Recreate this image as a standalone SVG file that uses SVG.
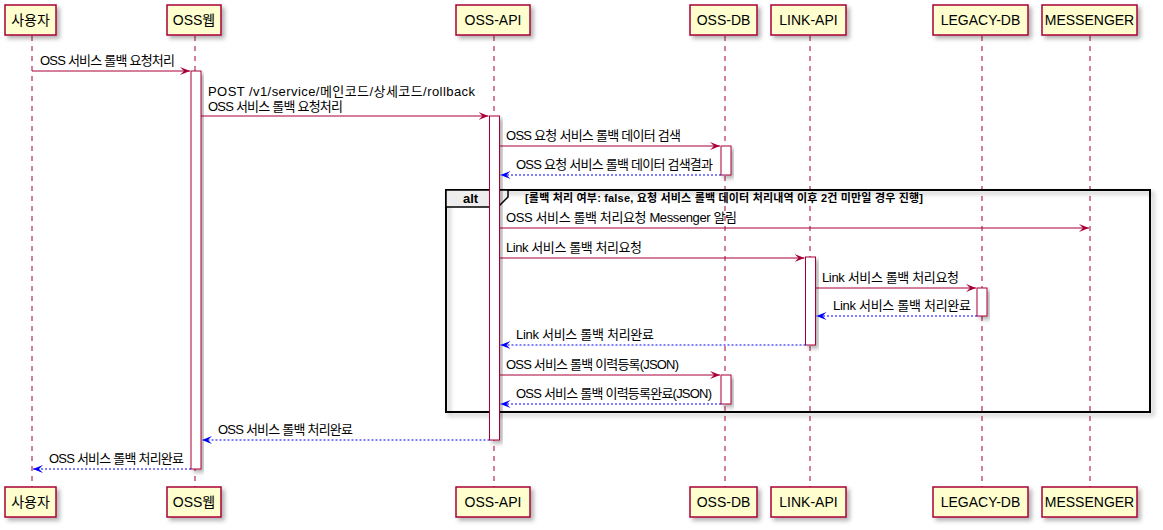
<svg xmlns="http://www.w3.org/2000/svg" width="1163" height="530" viewBox="0 0 1163 530">
<defs>
<filter id="sh" x="-20%" y="-20%" width="150%" height="150%">
<feDropShadow dx="3" dy="3" stdDeviation="2" flood-color="#000" flood-opacity="0.3"/>
</filter>
<marker id="ar" markerWidth="10" markerHeight="8" refX="10" refY="4" orient="auto" markerUnits="userSpaceOnUse">
<path d="M0,0 L10,4 L0,8 L4,4 Z" fill="#A80036"/>
</marker>
<marker id="ab" markerWidth="10" markerHeight="8" refX="10" refY="4" orient="auto" markerUnits="userSpaceOnUse">
<path d="M0,0 L10,4 L0,8 L4,4 Z" fill="#0000FF"/>
</marker>
<style>
.pbox{fill:#FEFECE;stroke:#A80036;stroke-width:1.5;filter:url(#sh)}
.ptxt{font-family:"Liberation Sans","Noto Sans CJK KR",sans-serif;font-size:14px;fill:#000;text-anchor:middle}
.life{stroke:#A80036;stroke-width:1;stroke-dasharray:5,5}
.act{fill:#FFFFFF;stroke:#A80036;stroke-width:1;filter:url(#sh)}
.msg{stroke:#A80036;stroke-width:1;fill:none;marker-end:url(#ar)}
.ret{stroke:#0000FF;stroke-width:1;stroke-dasharray:2,2;fill:none;marker-end:url(#ab)}
.mt{font-family:"Liberation Sans","Noto Sans CJK KR",sans-serif;font-size:13px;fill:#000}
.frame{fill:none;stroke:#000;stroke-width:2;filter:url(#sh)}
.tab{fill:#EEEEEE;stroke:#000;stroke-width:1.5}
.bt{font-family:"Liberation Sans","Noto Sans CJK KR",sans-serif;font-weight:bold;fill:#000}
</style>
</defs>
<rect width="1163" height="530" fill="#FFFFFF"/>

<g id="lifelines">
<line class="life" x1="32" y1="36" x2="32" y2="487"/>
<line class="life" x1="195" y1="36" x2="195" y2="487"/>
<line class="life" x1="494" y1="36" x2="494" y2="487"/>
<line class="life" x1="725" y1="36" x2="725" y2="487"/>
<line class="life" x1="810" y1="36" x2="810" y2="487"/>
<line class="life" x1="982" y1="36" x2="982" y2="487"/>
<line class="life" x1="1090" y1="36" x2="1090" y2="487"/>
</g>

<g id="alt-frame">
<rect class="frame" x="446" y="190" width="704" height="222"/>
<path class="tab" d="M446,190 L508,190 L508,197 L498,207 L446,207 Z"/>
<text class="bt" x="463" y="203" font-size="13">alt</text>
<text class="bt" x="525" y="202" font-size="11" textLength="398">[롤백 처리 여부: false, 요청 서비스 롤백 데이터 처리내역 이후 2건 미만일 경우 진행]</text>
</g>

<g id="activations">
<rect class="act" x="191" y="71" width="10" height="398"/>
<rect class="act" x="489.5" y="116" width="10" height="324"/>
<rect class="act" x="721" y="146" width="10" height="29"/>
<rect class="act" x="805.5" y="257" width="10" height="88"/>
<rect class="act" x="977" y="288" width="10" height="28"/>
<rect class="act" x="721" y="375" width="10" height="29"/>
</g>

<g id="participant-user"><rect class="pbox" x="5" y="5" width="51" height="30"/><text class="ptxt" x="30.5" y="25">사용자</text>
<rect class="pbox" x="5" y="487" width="51" height="30"/><text class="ptxt" x="30.5" y="507">사용자</text></g>
<g id="participant-ossweb"><rect class="pbox" x="167" y="5" width="54" height="30"/><text class="ptxt" x="194" y="25">OSS웹</text>
<rect class="pbox" x="167" y="487" width="54" height="30"/><text class="ptxt" x="194" y="507">OSS웹</text></g>
<g id="participant-ossapi"><rect class="pbox" x="456" y="5" width="74" height="30"/><text class="ptxt" x="493" y="25">OSS-API</text>
<rect class="pbox" x="456" y="487" width="74" height="30"/><text class="ptxt" x="493" y="507">OSS-API</text></g>
<g id="participant-ossdb"><rect class="pbox" x="690" y="5" width="67" height="30"/><text class="ptxt" x="723.5" y="25">OSS-DB</text>
<rect class="pbox" x="690" y="487" width="67" height="30"/><text class="ptxt" x="723.5" y="507">OSS-DB</text></g>
<g id="participant-linkapi"><rect class="pbox" x="771" y="5" width="75" height="30"/><text class="ptxt" x="808.5" y="25">LINK-API</text>
<rect class="pbox" x="771" y="487" width="75" height="30"/><text class="ptxt" x="808.5" y="507">LINK-API</text></g>
<g id="participant-legacydb"><rect class="pbox" x="933" y="5" width="95" height="30"/><text class="ptxt" x="980.5" y="25">LEGACY-DB</text>
<rect class="pbox" x="933" y="487" width="95" height="30"/><text class="ptxt" x="980.5" y="507">LEGACY-DB</text></g>
<g id="participant-messenger"><rect class="pbox" x="1042" y="5" width="95" height="30"/><text class="ptxt" x="1089.5" y="25">MESSENGER</text>
<rect class="pbox" x="1042" y="487" width="95" height="30"/><text class="ptxt" x="1089.5" y="507">MESSENGER</text></g>

<g id="connectors">
<line class="msg" x1="32" y1="71" x2="190" y2="71"/>
<text class="mt" x="40" y="65" textLength="135">OSS 서비스 롤백 요청처리</text>

<line class="msg" x1="201" y1="116" x2="488.5" y2="116"/>
<text class="mt" x="208" y="96" textLength="267">POST /v1/service/메인코드/상세코드/rollback</text>
<text class="mt" x="208" y="111" textLength="135">OSS 서비스 롤백 요청처리</text>

<line class="msg" x1="499.5" y1="146" x2="720" y2="146"/>
<text class="mt" x="506" y="140" textLength="175">OSS 요청 서비스 롤백 데이터 검색</text>

<line class="ret" x1="721" y1="175" x2="500.5" y2="175"/>
<text class="mt" x="516" y="169" textLength="197">OSS 요청 서비스 롤백 데이터 검색결과</text>

<line class="msg" x1="499.5" y1="228" x2="1089" y2="228"/>
<text class="mt" x="506" y="222" textLength="231">OSS 서비스 롤백 처리요청 Messenger 알림</text>

<line class="msg" x1="499.5" y1="258" x2="804.5" y2="258"/>
<text class="mt" x="506" y="252" textLength="136">Link 서비스 롤백 처리요청</text>

<line class="msg" x1="815.5" y1="288" x2="976" y2="288"/>
<text class="mt" x="822" y="282" textLength="137">Link 서비스 롤백 처리요청</text>

<line class="ret" x1="977" y1="316" x2="816.5" y2="316"/>
<text class="mt" x="833" y="310" textLength="138">Link 서비스 롤백 처리완료</text>

<line class="ret" x1="805.5" y1="345" x2="500.5" y2="345"/>
<text class="mt" x="516" y="339" textLength="138">Link 서비스 롤백 처리완료</text>

<line class="msg" x1="499.5" y1="375" x2="720" y2="375"/>
<text class="mt" x="506" y="369" textLength="173">OSS 서비스 롤백 이력등록(JSON)</text>

<line class="ret" x1="721" y1="404" x2="500.5" y2="404"/>
<text class="mt" x="516" y="398" textLength="196">OSS 서비스 롤백 이력등록완료(JSON)</text>

<line class="ret" x1="489.5" y1="440" x2="202" y2="440"/>
<text class="mt" x="218" y="434" textLength="135">OSS 서비스 롤백 처리완료</text>

<line class="ret" x1="191" y1="469" x2="33" y2="469"/>
<text class="mt" x="49" y="463" textLength="135">OSS 서비스 롤백 처리완료</text>
</g>
</svg>
